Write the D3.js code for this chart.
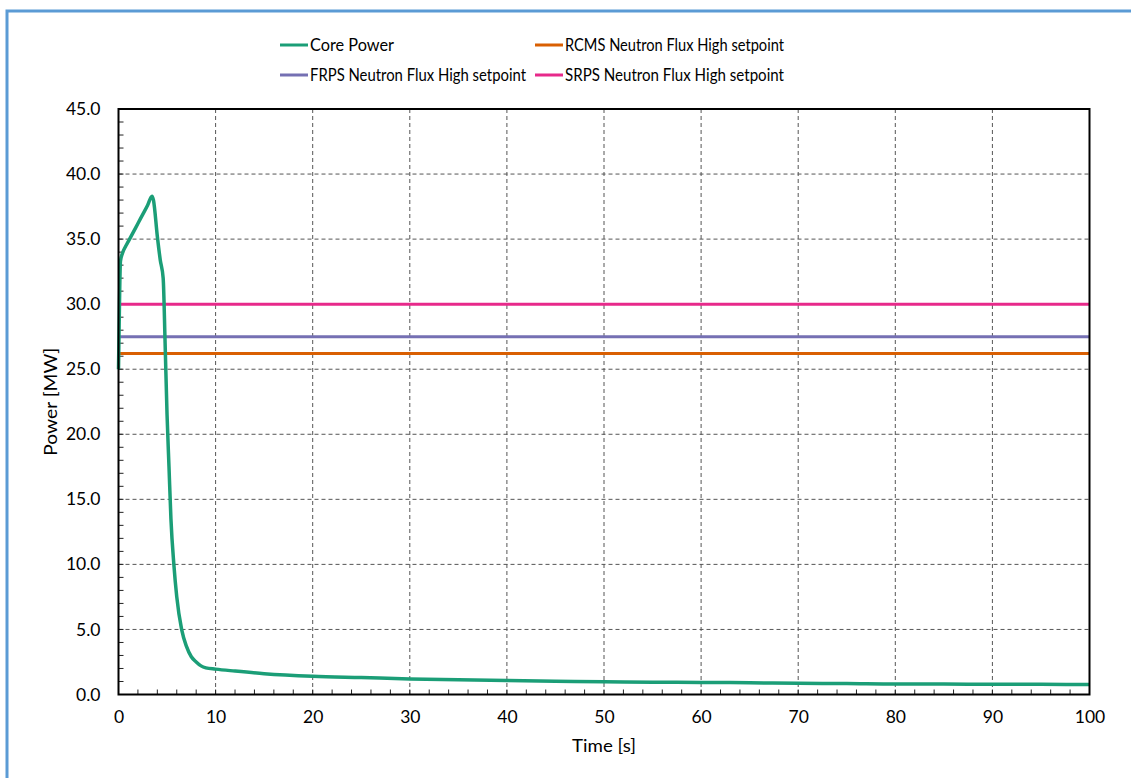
<!DOCTYPE html>
<html><head><meta charset="utf-8">
<script src="https://cdn.jsdelivr.net/npm/d3@7"></script>
<style>html,body{margin:0;padding:0;background:#fff;overflow:hidden;} svg{display:block;font-family:Lato,"Open Sans",sans-serif;}</style>
</head><body>
<svg id="c" width="1131" height="778"></svg>
<script>
const coreTime = [0,0.1,0.2,0.4,0.7,1.0,1.5,2.0,2.5,3.0,3.45,3.6,4.0,4.3,4.6,4.8,5.0,5.2,5.4,5.7,6.0,6.5,7.0,7.5,8.0,8.5,9.0,10,12,15,20,25,30,35,40,45,50,55,60,65,70,75,80,85,90,95,100];
const corePower = [25,30,33.3,33.9,34.4,34.8,35.5,36.2,36.9,37.6,38.3,38.0,35.2,33.4,32.0,27,21.5,17.5,13.5,10,7.5,5.0,3.7,2.9,2.5,2.2,2.05,1.95,1.8,1.6,1.4,1.3,1.2,1.13,1.07,1.02,0.98,0.95,0.93,0.9,0.86,0.84,0.8,0.8,0.78,0.78,0.77];
const setpointNames = ["RCMS Neutron Flux High setpoint","FRPS Neutron Flux High setpoint","SRPS Neutron Flux High setpoint"];
const setpointValues = [26.2,27.5,30.0];
const xTicks = [0,10,20,30,40,50,60,70,80,90,100];
const yTicks = [0,5,10,15,20,25,30,35,40,45];
const colors = {core:"#1b9e77", RCMS:"#d95f02", FRPS:"#7570b3", SRPS:"#e7298a"};

const svg = d3.select("#c");
svg.append("path").attr("d","M7,790V11H1140")
  .attr("fill","none").attr("stroke","#5b9bd5").attr("stroke-width",3);

const L=118.5, R=1089.5, T=109, B=694.5;
const x = d3.scaleLinear().domain([0,100]).range([L,R]);
const y = d3.scaleLinear().domain([0,45]).range([B,T]);

const g = svg.append("g");
g.selectAll(".gx").data(xTicks.slice(1,-1)).join("line")
  .attr("x1",d=>x(d)).attr("x2",d=>x(d)).attr("y1",T).attr("y2",B)
  .attr("stroke","#555").attr("stroke-width",1).attr("stroke-dasharray","4,3");
g.selectAll(".gy").data(yTicks.slice(1,-1)).join("line")
  .attr("y1",d=>y(d)).attr("y2",d=>y(d)).attr("x1",L).attr("x2",R)
  .attr("stroke","#555").attr("stroke-width",1).attr("stroke-dasharray","4,3");

const xMinor = d3.range(0,100.01,2);
const yMinor = d3.range(0,45.01,1);
g.selectAll(".mx").data(xMinor).join("line")
  .attr("x1",d=>x(d)).attr("x2",d=>x(d)).attr("y1",B).attr("y2",B-5)
  .attr("stroke","#222").attr("stroke-width",1);
g.selectAll(".my").data(yMinor).join("line")
  .attr("y1",d=>y(d)).attr("y2",d=>y(d)).attr("x1",L).attr("x2",L+5)
  .attr("stroke","#222").attr("stroke-width",1);

const xAxis = svg.append("g").attr("transform",`translate(0,${B})`)
  .call(d3.axisBottom(x).tickValues(xTicks).tickSize(0).tickPadding(16).tickFormat(d3.format("d")));
const yAxis = svg.append("g").attr("transform",`translate(${L},0)`)
  .call(d3.axisLeft(y).tickValues(yTicks).tickSize(0).tickPadding(18).tickFormat(d3.format(".1f")));
[xAxis,yAxis].forEach(a=>{a.select(".domain").remove(); a.selectAll("text").attr("font-size",17.5).attr("fill","#000").attr("font-family","Lato,'Open Sans',sans-serif");});

const spColors=[colors.RCMS,colors.FRPS,colors.SRPS];
svg.append("g").selectAll("line").data(setpointValues).join("line")
  .attr("x1",L).attr("x2",R).attr("y1",d=>y(d)).attr("y2",d=>y(d))
  .attr("stroke",(d,i)=>spColors[i]).attr("stroke-width",3);

const pts = coreTime.map((t,i)=>[t,corePower[i]]);
svg.append("path").datum(pts)
  .attr("d",d3.line().x(d=>x(d[0])).y(d=>y(d[1])).curve(d3.curveMonotoneX))
  .attr("fill","none").attr("stroke",colors.core).attr("stroke-width",3.5).attr("stroke-linejoin","round");

svg.append("rect").attr("x",L).attr("y",T).attr("width",R-L).attr("height",B-T)
  .attr("fill","none").attr("stroke","#000").attr("stroke-width",2);

svg.append("text").attr("x",(L+R)/2).attr("y",752).attr("text-anchor","middle")
  .attr("font-size",17.5).attr("textLength",64).attr("lengthAdjust","spacingAndGlyphs").text("Time [s]");
svg.append("text").attr("transform",`translate(57,${(T+B)/2}) rotate(-90)`).attr("text-anchor","middle")
  .attr("font-size",17.5).attr("textLength",108).attr("lengthAdjust","spacingAndGlyphs").text("Power [MW]");

const legend = [
  {name:"Core Power", color:colors.core, lx:280, ly:45, w:84},
  {name:setpointNames[0], color:colors.RCMS, lx:535, ly:45, w:219},
  {name:setpointNames[1], color:colors.FRPS, lx:280, ly:75, w:216},
  {name:setpointNames[2], color:colors.SRPS, lx:535, ly:75, w:219}
];
const lg = svg.append("g").selectAll("g").data(legend).join("g");
lg.append("line").attr("x1",d=>d.lx).attr("x2",d=>d.lx+28).attr("y1",d=>d.ly).attr("y2",d=>d.ly)
  .attr("stroke",d=>d.color).attr("stroke-width",3);
lg.append("text").attr("x",d=>d.lx+30).attr("y",d=>d.ly+6).attr("font-size",17.5)
  .attr("textLength",d=>d.w).attr("lengthAdjust","spacingAndGlyphs").text(d=>d.name);
</script>
</body></html>
